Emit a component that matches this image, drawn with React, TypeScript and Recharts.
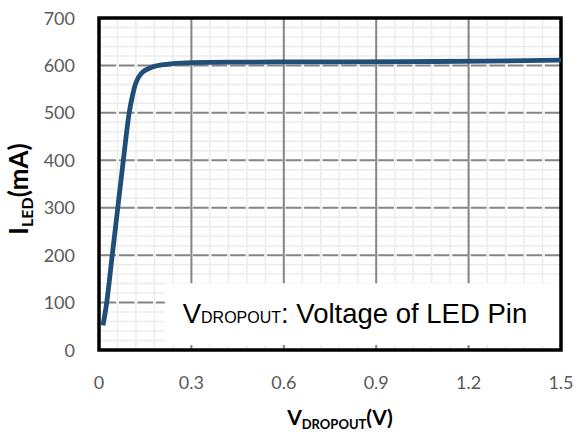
import { CartesianGrid, Label, Line, LineChart, ReferenceArea, XAxis, YAxis } from "recharts";

const vDropout = [0.013, 0.025, 0.043, 0.061, 0.079, 0.098, 0.11, 0.118, 0.128, 0.142, 0.16, 0.18, 0.203, 0.24, 0.3, 0.45, 0.7, 1.0, 1.25, 1.5];
const iLed = [52, 100, 200, 300, 400, 500, 540, 560, 575, 586, 593, 598, 601, 604, 606, 607, 607.5, 608, 609, 611];

const xTicks = [0, 0.3, 0.6, 0.9, 1.2, 1.5];
const yTicks = [0, 100, 200, 300, 400, 500, 600, 700];
const xDomain = [0, 1.5];
const yDomain = [0, 700];

// light minor grid: 5 steps between each major line
const xMinor = Array.from({ length: 26 }, (_, i) => +(i * 0.06).toFixed(2));
const yMinor = Array.from({ length: 36 }, (_, i) => i * 20);

const data = vDropout.map((v, i) => ({ v, i: iLed[i] }));

const tickFont = "Lato, 'Open Sans', sans-serif";

function XTick(props: any) {
  return (
    <text x={props.x} y={props.y} dy={39} textAnchor="middle" fill="#595959" fontSize={18} fontFamily={tickFont}>
      {props.payload.value === 0 ? "0" : props.payload.value.toFixed(1)}
    </text>
  );
}

function YTick(props: any) {
  return (
    <text x={props.x - 24} y={props.y} dy={6.5} textAnchor="end" fill="#595959" fontSize={18} fontFamily={tickFont}>
      {props.payload.value}
    </text>
  );
}

function NoteLabel(props: any) {
  const vb = props.viewBox;
  const cx = vb.x + vb.width / 2 - 8;
  const cy = vb.y + vb.height / 2 + 9;
  return (
    <text x={cx} y={cy} textAnchor="middle" fontFamily="'Liberation Sans', Arial, sans-serif" fontSize={27.5} fill="#000">
      V<tspan fontSize={16}>DROPOUT</tspan>: Voltage of LED Pin
    </text>
  );
}

const xAt = (vals: number[]) => ({ xAxis, offset }: any) =>
  vals.map((v) =>
    xAxis && typeof xAxis.scale === "function"
      ? xAxis.scale(v)
      : offset.left + (offset.width * (v - xDomain[0])) / (xDomain[1] - xDomain[0])
  );
const yAt = (vals: number[]) => ({ yAxis, offset }: any) =>
  vals.map((v) =>
    yAxis && typeof yAxis.scale === "function"
      ? yAxis.scale(v)
      : offset.top + offset.height * (1 - (v - yDomain[0]) / (yDomain[1] - yDomain[0]))
  );

export default function App() {
  return (
    <div style={{ width: 577, height: 439, background: "#fff" }}>
      <style>{"body{margin:0}"}</style>
      <LineChart width={577} height={439} data={data} margin={{ top: 18, right: 16, bottom: 0, left: 0 }}>
        <XAxis
          dataKey="v"
          type="number"
          domain={xDomain}
          ticks={xTicks}
          axisLine={false}
          tickLine={false}
          tickSize={0}
          tickMargin={0}
          height={89}
          tick={<XTick />}
          interval={0}
        />
        <YAxis
          type="number"
          domain={yDomain}
          ticks={yTicks}
          axisLine={false}
          tickLine={false}
          tickSize={0}
          tickMargin={0}
          width={99}
          tick={<YTick />}
          interval={0}
        />
        <CartesianGrid
          stroke="#ececec"
          strokeWidth={1.5}
          verticalCoordinatesGenerator={xAt(xMinor)}
          horizontalCoordinatesGenerator={yAt(yMinor)}
        />
        <CartesianGrid
          stroke="#858585"
          strokeWidth={2}
          horizontal={false}
          verticalCoordinatesGenerator={xAt(xTicks)}
        />
        <CartesianGrid
          stroke="#858585"
          strokeWidth={2}
          vertical={false}
          strokeDasharray="15.5 3.02"
          strokeDashoffset={-1.5}
          horizontalCoordinatesGenerator={yAt(yTicks)}
        />
        <ReferenceArea x1={0.214} x2={1.5} y1={10.5} y2={141} fill="#fff" fillOpacity={1} stroke="none">
          <Label content={<NoteLabel />} />
        </ReferenceArea>
        <ReferenceArea x1={0} x2={1.5} y1={0} y2={700} fill="none" stroke="#000" strokeWidth={3.5} />
        <Line
          dataKey="i"
          type="monotone"
          stroke="#1F4E79"
          strokeWidth={4.8}
          dot={false}
          isAnimationActive={false}
        />
        <text
          x={20}
          y={189}
          transform="rotate(-90 20 189)"
          textAnchor="middle"
          fontFamily={tickFont}
          fontWeight="bold"
          fontSize={26}
          fill="#000"
          dy={8}
        >
          I<tspan fontSize={16} dy={5}>LED</tspan>
          <tspan dy={-5}>(mA)</tspan>
        </text>
        <text x={340} y={425} textAnchor="middle" fontFamily={tickFont} fontWeight="bold" fontSize={21} fill="#000">
          V<tspan fontSize={13} dy={4}>DROPOUT</tspan>
          <tspan dy={-4}>(V)</tspan>
        </text>
      </LineChart>
    </div>
  );
}
